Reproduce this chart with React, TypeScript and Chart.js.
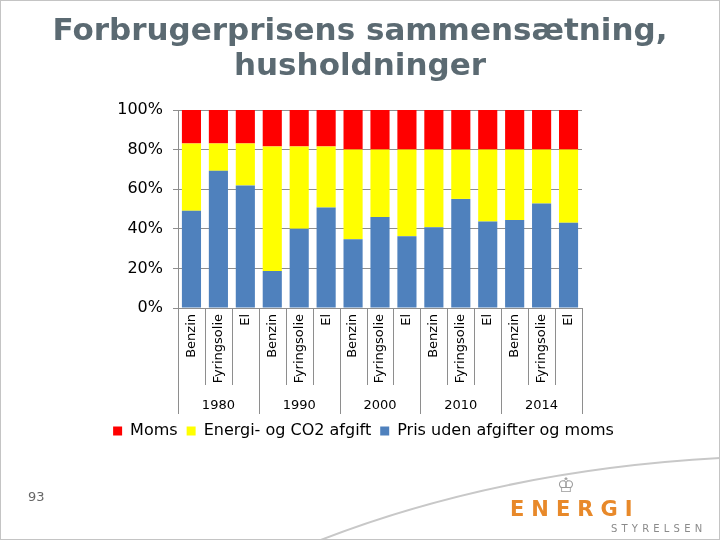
import React, { useEffect, useRef } from "react";
import { Chart, registerables } from "chart.js";

Chart.register(...registerables);

// ---- data ----
const categories = [
  "Benzin", "Fyringsolie", "El",
  "Benzin", "Fyringsolie", "El",
  "Benzin", "Fyringsolie", "El",
  "Benzin", "Fyringsolie", "El",
  "Benzin", "Fyringsolie", "El",
];
const years = ["1980", "1990", "2000", "2010", "2014"];
const prisUdenAfgifter = [49.1, 69.3, 61.9, 18.7, 40.0, 50.8, 34.7, 46.0, 36.3, 40.8, 55.1, 43.7, 44.5, 52.8, 43.0];
const energiCO2Afgift = [34.0, 13.8, 21.2, 62.9, 41.6, 30.8, 45.3, 34.0, 43.7, 39.2, 24.9, 36.3, 35.5, 27.2, 37.0];
const moms = [16.9, 16.9, 16.9, 18.4, 18.4, 18.4, 20.0, 20.0, 20.0, 20.0, 20.0, 20.0, 20.0, 20.0, 20.0];
const yTicks = [0, 20, 40, 60, 80, 100];

const seriesNames = ["Pris uden afgifter og moms", "Energi- og CO2 afgift", "Moms"];
const seriesColors = ["#4F81BD", "#FFFF00", "#FF0000"];

const GRID = "#8E8E8E";
const FONT = "DejaVu Sans";
const GROUP_SIZE = 3;

// draws the category separators of the two-level x axis, using the scales' own positions
const separatorPlugin = {
  id: "separators",
  afterDraw(chart: any) {
    const xs = chart.scales.x;
    const x2 = chart.scales.x2;
    if (!xs || !x2) return;
    const n = xs.getLabels().length;
    const p0 = xs.getPixelForValue(0);
    const half = n > 1 ? (xs.getPixelForValue(1) - p0) / 2 : xs.width / 2;
    const ctx = chart.ctx;
    ctx.save();
    ctx.strokeStyle = GRID;
    ctx.lineWidth = 1;
    for (let i = 0; i <= n; i++) {
      const px = Math.round((i < n ? xs.getPixelForValue(i) - half : xs.getPixelForValue(n - 1) + half)) + 0.5;
      const bottom = i % GROUP_SIZE === 0 ? x2.bottom : xs.bottom;
      ctx.beginPath();
      ctx.moveTo(px, xs.top);
      ctx.lineTo(px, bottom);
      ctx.stroke();
    }
    ctx.restore();
  },
};

export default function App() {
  const ref = useRef<HTMLCanvasElement>(null);

  useEffect(() => {
    const canvas = ref.current;
    if (!canvas) return;
    const chart = new Chart(canvas, {
      type: "bar",
      data: {
        labels: categories,
        datasets: [prisUdenAfgifter, energiCO2Afgift, moms].map((d, i) => ({
          label: seriesNames[i],
          data: d,
          backgroundColor: seriesColors[i],
          borderWidth: 0,
          barPercentage: 0.71,
          categoryPercentage: 1,
          xAxisID: "x",
          yAxisID: "y",
        })),
      },
      plugins: [separatorPlugin],
      options: {
        animation: false,
        responsive: false,
        layout: { padding: { left: 7, right: 0, top: 110, bottom: 91 } },
        plugins: {
          title: { display: false },
          tooltip: { enabled: false },
          legend: {
            position: "bottom",
            reverse: true,
            labels: {
              boxWidth: 9,
              boxHeight: 9,
              padding: 9,
              color: "#000",
              font: { family: FONT, size: 16 },
            },
          },
        },
        scales: {
          x: {
            type: "category",
            stacked: true,
            offset: true,
            grid: { display: false, drawTicks: false, tickLength: 0 },
            border: { display: true, color: GRID },
            afterFit: (s: any) => {
              s.height = 77;
            },
            ticks: {
              autoSkip: false,
              minRotation: 90,
              maxRotation: 90,
              padding: 6,
              color: "#000",
              font: { family: FONT, size: 13 },
            },
          },
          x2: {
            type: "category",
            position: "bottom",
            weight: 1,
            labels: years,
            offset: true,
            grid: { display: false, drawTicks: false, tickLength: 0 },
            border: { display: false },
            afterFit: (s: any) => {
              s.height = 29;
            },
            ticks: {
              autoSkip: false,
              maxRotation: 0,
              minRotation: 0,
              padding: 13,
              color: "#000",
              font: { family: FONT, size: 13 },
            },
          },
          y: {
            stacked: true,
            min: 0,
            max: 100,
            afterBuildTicks: (s: any) => {
              s.ticks = yTicks.map((v) => ({ value: v }));
            },
            afterFit: (s: any) => {
              s.width = 171;
            },
            grid: { color: GRID, tickLength: 5, drawTicks: true },
            border: { display: true, color: GRID },
            ticks: {
              padding: 10,
              color: "#000",
              font: { family: FONT, size: 16 },
              callback: (v: any) => `${v}%`,
            },
          },
          yR: {
            position: "right",
            display: true,
            grid: { display: false, drawTicks: false },
            border: { display: false },
            ticks: { display: false },
            afterFit: (s: any) => {
              s.width = 138;
            },
          },
        },
      },
    } as any);
    return () => chart.destroy();
  }, []);

  return (
    <div
      style={{
        position: "fixed",
        left: 0,
        top: 0,
        width: 720,
        height: 540,
        background: "#fff",
        overflow: "hidden",
      }}
    >
      <svg width={720} height={540} style={{ position: "absolute", left: 0, top: 0 }}>
        <path d="M 318 541 Q 500 470 721 458" stroke="#C8C8C8" strokeWidth={2} fill="none" />
      </svg>
      <canvas ref={ref} width={720} height={540} style={{ position: "absolute", left: 0, top: 0 }} />
      <div
        style={{
          position: "absolute",
          left: 0,
          top: 12,
          width: 720,
          textAlign: "center",
          fontFamily: FONT,
          fontWeight: "bold",
          fontSize: 31,
          lineHeight: "35px",
          color: "#5B6A72",
        }}
      >
        Forbrugerprisens sammensætning,
        <br />
        husholdninger
      </div>
      <div
        style={{
          position: "absolute",
          left: 28,
          top: 489,
          fontFamily: FONT,
          fontSize: 13,
          color: "#666",
        }}
      >
        93
      </div>
      <div
        style={{
          position: "absolute",
          left: 557,
          top: 474,
          fontFamily: FONT,
          fontSize: 20,
          lineHeight: "22px",
          color: "#9A9A9A",
        }}
      >
        ♔
      </div>
      <div
        style={{
          position: "absolute",
          left: 510,
          top: 497,
          fontFamily: FONT,
          fontWeight: "bold",
          fontSize: 21,
          lineHeight: "24px",
          letterSpacing: 7,
          color: "#E8892A",
        }}
      >
        ENERGI
      </div>
      <div
        style={{
          position: "absolute",
          left: 611,
          top: 523,
          fontFamily: FONT,
          fontSize: 10,
          lineHeight: "12px",
          letterSpacing: 4.2,
          color: "#8A8A8A",
        }}
      >
        STYRELSEN
      </div>
      <div
        style={{
          position: "absolute",
          left: 0,
          top: 0,
          width: 720,
          height: 540,
          boxSizing: "border-box",
          border: "1px solid #C4C4C4",
          pointerEvents: "none",
        }}
      />
    </div>
  );
}
